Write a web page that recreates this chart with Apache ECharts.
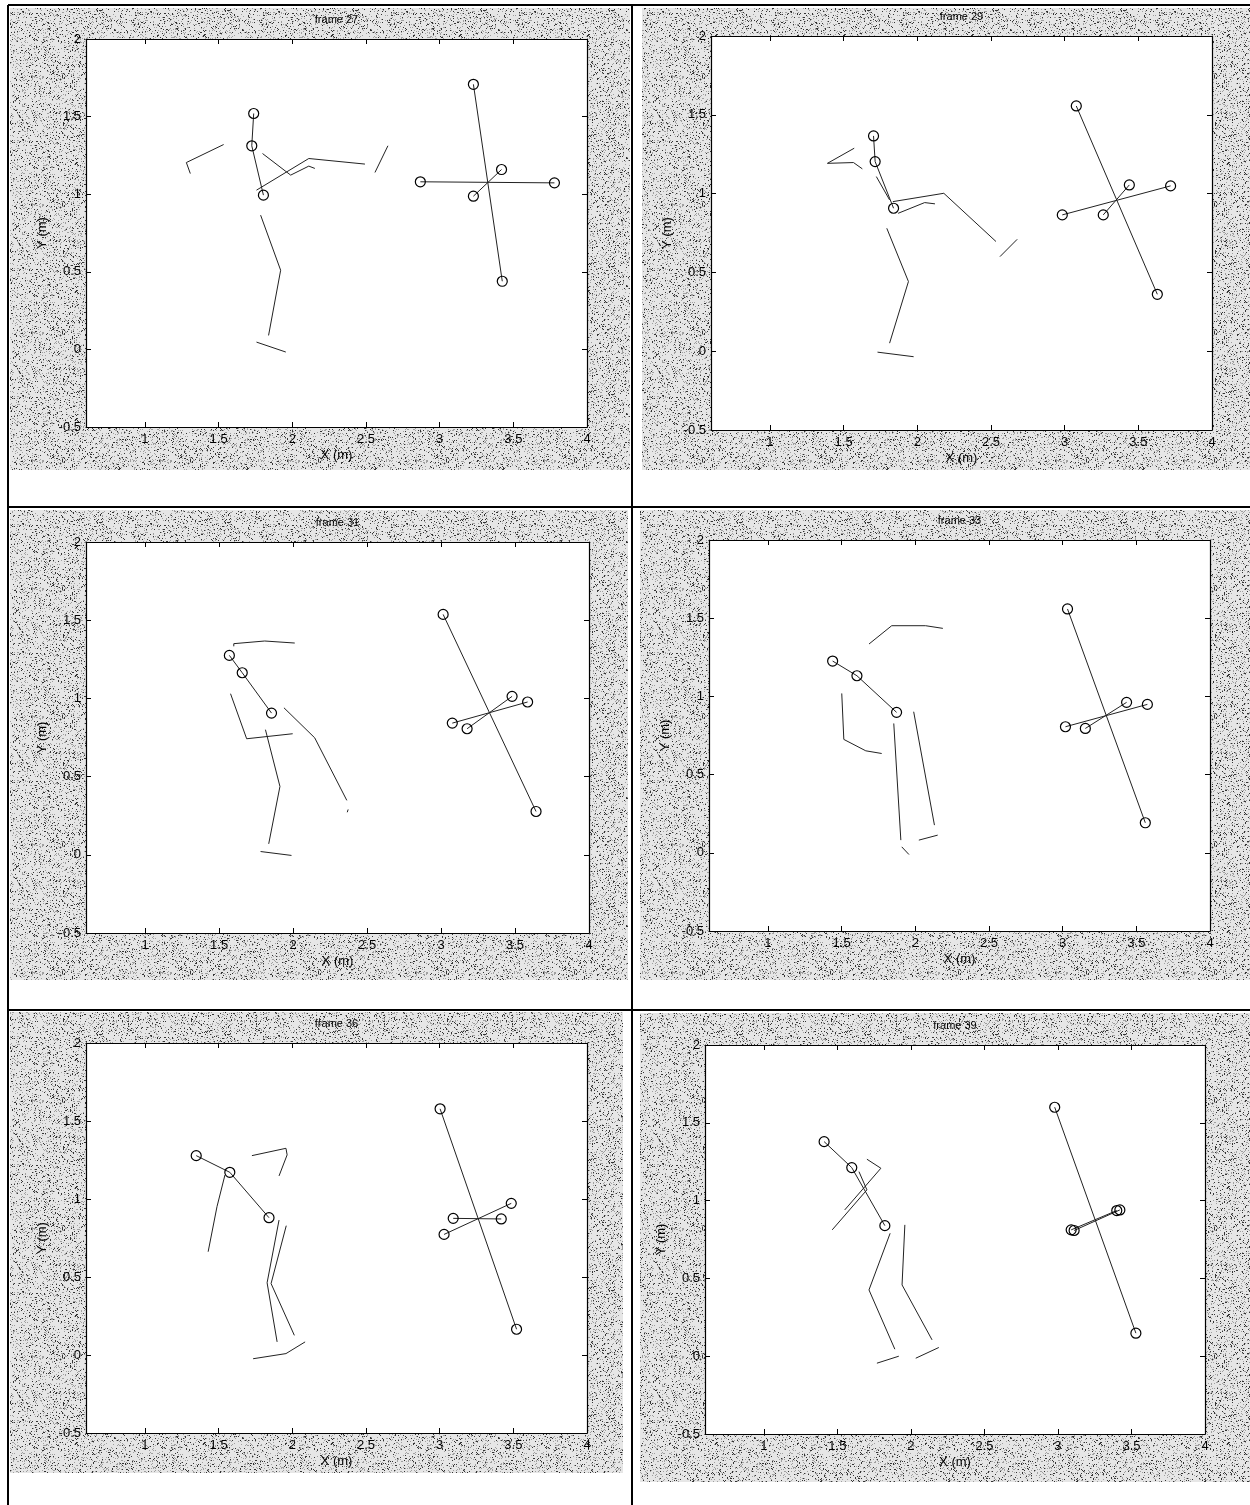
<!DOCTYPE html>
<html>
<head>
<meta charset="utf-8">
<title>frames 27-39</title>
<script src="https://cdn.jsdelivr.net/npm/echarts@6/dist/echarts.min.js"></script>
<style>
  html, body { margin: 0; padding: 0; background: #fff; }
  #chart { width: 1250px; height: 1505px; }
</style>
</head>
<body>
<div id="chart"></div>
<script>
// ---- data (metres) ----
const frameTitles = ['frame 27', 'frame 29', 'frame 31', 'frame 33', 'frame 36', 'frame 39'];
const xRange = [0.6, 4];
const yRange = [-0.5, 2];
const tickStep = 0.5;

// segments drawn with 'o' markers at every point
const frame27Marked = [
  [[1.738, 1.520], [1.725, 1.312], [1.804, 0.994]],
  [[3.229, 1.708], [3.425, 0.439]],
  [[2.869, 1.080], [3.779, 1.073]],
  [[3.229, 0.987], [3.420, 1.159]]
];
// plain segments (no markers)
const frame27Plain = [
  [[1.798, 1.262], [1.989, 1.123], [2.112, 1.181], [2.153, 1.166]],
  [[1.757, 1.026], [2.112, 1.230], [2.493, 1.194]],
  [[1.534, 1.320], [1.281, 1.204], [1.308, 1.133]],
  [[2.649, 1.312], [2.561, 1.140]],
  [[1.785, 0.865], [1.921, 0.510], [1.839, 0.090]],
  [[1.757, 0.047], [1.956, -0.017]]
];

const frame29Marked = [
  [[1.703, 1.366], [1.714, 1.203], [1.839, 0.907]],
  [[3.079, 1.556], [3.629, 0.361]],
  [[2.984, 0.865], [3.719, 1.049]],
  [[3.262, 0.865], [3.439, 1.055]]
];
const frame29Plain = [
  [[1.722, 1.108], [1.812, 0.960]],
  [[1.834, 0.949], [2.180, 1.002], [2.534, 0.696]],
  [[2.561, 0.600], [2.678, 0.710]],
  [[1.870, 0.875], [2.050, 0.943], [2.120, 0.935]],
  [[1.572, 1.288], [1.390, 1.192], [1.567, 1.197], [1.627, 1.157]],
  [[1.793, 0.780], [1.940, 0.442], [1.812, 0.051]],
  [[1.730, -0.006], [1.975, -0.035]]
];

const frame31Marked = [
  [[1.569, 1.275], [1.656, 1.164], [1.854, 0.906]],
  [[3.014, 1.537], [3.642, 0.277]],
  [[3.076, 0.842], [3.585, 0.977]],
  [[3.176, 0.806], [3.480, 1.013]]
];
const frame31Plain = [
  [[1.599, 1.333], [1.599, 1.350], [1.808, 1.367], [2.011, 1.354]],
  [[1.577, 1.030], [1.686, 0.742], [1.997, 0.774]],
  [[1.938, 0.940], [2.146, 0.748], [2.363, 0.348]],
  [[2.372, 0.290], [2.366, 0.272]],
  [[1.813, 0.800], [1.911, 0.437], [1.835, 0.070]],
  [[1.780, 0.021], [1.989, -0.004]]
];

const frame33Marked = [
  [[1.439, 1.226], [1.604, 1.132], [1.873, 0.898]],
  [[3.033, 1.559], [3.561, 0.192]],
  [[3.019, 0.806], [3.575, 0.949]],
  [[3.154, 0.795], [3.434, 0.962]]
];
const frame33Plain = [
  [[1.686, 1.335], [1.840, 1.452], [2.070, 1.452], [2.187, 1.435]],
  [[1.501, 1.019], [1.515, 0.725], [1.664, 0.652], [1.772, 0.635]],
  [[1.854, 0.827], [1.902, 0.081]],
  [[1.908, 0.038], [1.957, -0.011]],
  [[1.989, 0.902], [2.130, 0.177]],
  [[2.024, 0.081], [2.152, 0.113]]
];

const frame36Marked = [
  [[1.348, 1.278], [1.576, 1.171], [1.842, 0.880]],
  [[3.003, 1.578], [3.522, 0.165]],
  [[3.030, 0.773], [3.486, 0.972]],
  [[3.092, 0.876], [3.418, 0.872]]
];
const frame36Plain = [
  [[1.543, 1.154], [1.489, 0.951], [1.429, 0.662]],
  [[1.726, 1.278], [1.957, 1.325], [1.965, 1.283], [1.910, 1.148]],
  [[1.910, 0.865], [1.829, 0.463], [1.897, 0.084]],
  [[1.959, 0.829], [1.856, 0.458], [2.014, 0.126]],
  [[1.734, -0.024], [1.957, 0.009], [2.087, 0.084]]
];

const frame39Marked = [
  [[1.410, 1.379], [1.598, 1.212], [1.823, 0.839]],
  [[2.978, 1.600], [3.530, 0.148]],
  [[3.090, 0.812], [3.400, 0.936]],
  [[3.110, 0.808], [3.421, 0.940]]
];
const frame39Plain = [
  [[1.701, 1.266], [1.796, 1.208], [1.550, 0.940]],
  [[1.647, 1.186], [1.701, 1.069], [1.465, 0.812]],
  [[1.859, 0.790], [1.715, 0.426], [1.891, 0.045]],
  [[1.959, 0.844], [1.940, 0.458], [2.144, 0.105]],
  [[1.769, -0.045], [1.918, 0.000]],
  [[2.033, -0.013], [2.190, 0.056]]
];

// ---- layout ----
// plot boxes [left, top, width, height]
const plotBoxes = [
  [86, 39, 501, 388], [711, 36, 501, 394],
  [86, 542, 503, 391], [709, 540, 501, 391],
  [86, 1043, 501, 390], [705, 1045, 500, 389]
];
// stippled gray panels [x, y, w, h]
const panelBoxes = [
  [10, 8, 620, 462], [642, 8, 608, 462],
  [10, 510, 618, 470], [640, 510, 610, 470],
  [10, 1012, 613, 461], [640, 1013, 610, 469]
];
const markedSets = [frame27Marked, frame29Marked, frame31Marked, frame33Marked, frame36Marked, frame39Marked];
const plainSets = [frame27Plain, frame29Plain, frame31Plain, frame33Plain, frame36Plain, frame39Plain];

const FONT = '"Liberation Sans", Arial, sans-serif';

// light stipple texture like the scanned gray figure background
function stipple() {
  const n = 128;
  const c = document.createElement('canvas');
  c.width = n; c.height = n;
  const g = c.getContext('2d');
  g.fillStyle = '#e6e6e6';
  g.fillRect(0, 0, n, n);
  for (let y = 0; y < n; y++) {
    for (let x = 0; x < n; x++) {
      const s = Math.sin(x * 12.9898 + y * 78.233) * 43758.5453;
      const h = s - Math.floor(s);
      if (h < 0.07) { g.fillStyle = '#333'; g.fillRect(x, y, 1, 1); }
      else if (h < 0.19) { g.fillStyle = '#a0a0a0'; g.fillRect(x, y, 1, 1); }
    }
  }
  return c;
}

function tickFmt(v) {
  const k = v / tickStep;
  return Math.abs(k - Math.round(k)) < 1e-6 ? String(+v.toFixed(2)) : '';
}

const chart = echarts.init(document.getElementById('chart'), null, { renderer: 'canvas' });
const pattern = { image: stipple(), repeat: 'repeat' };

const grids = [], xAxes = [], yAxes = [], series = [], elements = [];

plotBoxes.forEach((b, i) => {
  grids.push({ left: b[0], top: b[1], width: b[2], height: b[3], show: true,
    backgroundColor: '#fff', borderWidth: 0 });

  const tick = { show: true, inside: true, length: 5, lineStyle: { color: '#000', width: 1 } };
  const line = { show: true, onZero: false, lineStyle: { color: '#000', width: 1.2 } };
  const label = { color: '#000', fontSize: 13, fontFamily: FONT, formatter: tickFmt };

  xAxes.push({
    type: 'value', gridIndex: i, position: 'bottom', min: xRange[0], max: xRange[1],
    minInterval: tickStep, maxInterval: tickStep,
    axisLine: line, axisTick: tick, splitLine: { show: false },
    axisLabel: Object.assign({ margin: 6, showMinLabel: false }, label),
    name: 'X (m)', nameLocation: 'middle', nameGap: 22,
    nameTextStyle: { color: '#000', fontSize: 13, fontFamily: FONT }
  });
  xAxes.push({
    type: 'value', gridIndex: i, position: 'top', min: xRange[0], max: xRange[1],
    minInterval: tickStep, maxInterval: tickStep,
    axisLine: line, axisTick: tick, splitLine: { show: false }, axisLabel: { show: false }
  });
  yAxes.push({
    type: 'value', gridIndex: i, position: 'left', min: yRange[0], max: yRange[1],
    interval: tickStep,
    axisLine: line, axisTick: tick, splitLine: { show: false },
    axisLabel: Object.assign({ margin: 5 }, label),
    name: 'Y (m)', nameLocation: 'middle', nameGap: 37,
    nameTextStyle: { color: '#000', fontSize: 13, fontFamily: FONT }
  });
  yAxes.push({
    type: 'value', gridIndex: i, position: 'right', min: yRange[0], max: yRange[1],
    interval: tickStep,
    axisLine: line, axisTick: tick, splitLine: { show: false }, axisLabel: { show: false }
  });

  const common = { type: 'line', xAxisIndex: 2 * i, yAxisIndex: 2 * i, silent: true,
    animation: false, emphasis: { disabled: true }, z: 3 };
  markedSets[i].forEach(seg => series.push(Object.assign({}, common, {
    data: seg, symbol: 'circle', symbolSize: 10, showSymbol: true,
    lineStyle: { color: '#222', width: 1 },
    itemStyle: { color: 'rgba(0,0,0,0)', borderColor: '#000', borderWidth: 1.2 }
  })));
  plainSets[i].forEach(seg => series.push(Object.assign({}, common, {
    data: seg, symbol: 'none', showSymbol: false,
    lineStyle: { color: '#222', width: 1 }
  })));

  const p = panelBoxes[i];
  elements.push({ type: 'rect', z: -10, silent: true,
    shape: { x: p[0], y: p[1], width: p[2], height: p[3] }, style: { fill: pattern } });
  elements.push({ type: 'text', z: 5, silent: true, x: b[0] + b[2] / 2, y: b[1] - 19,
    style: { text: frameTitles[i], fill: '#000', font: '11px ' + FONT,
      textAlign: 'center', textVerticalAlign: 'middle' } });
});

// cell frame lines
[
  [8, 5, 1250, 5], [8, 5, 8, 1505], [632, 5, 632, 1505],
  [8, 507, 1250, 507], [8, 1010, 1250, 1010]
].forEach(l => elements.push({ type: 'line', z: 10, silent: true,
  shape: { x1: l[0], y1: l[1], x2: l[2], y2: l[3] },
  style: { stroke: '#000', lineWidth: 2 } }));

chart.setOption({
  animation: false,
  backgroundColor: '#fff',
  grid: grids,
  xAxis: xAxes,
  yAxis: yAxes,
  series: series,
  graphic: { elements: elements }
});
</script>
</body>
</html>
